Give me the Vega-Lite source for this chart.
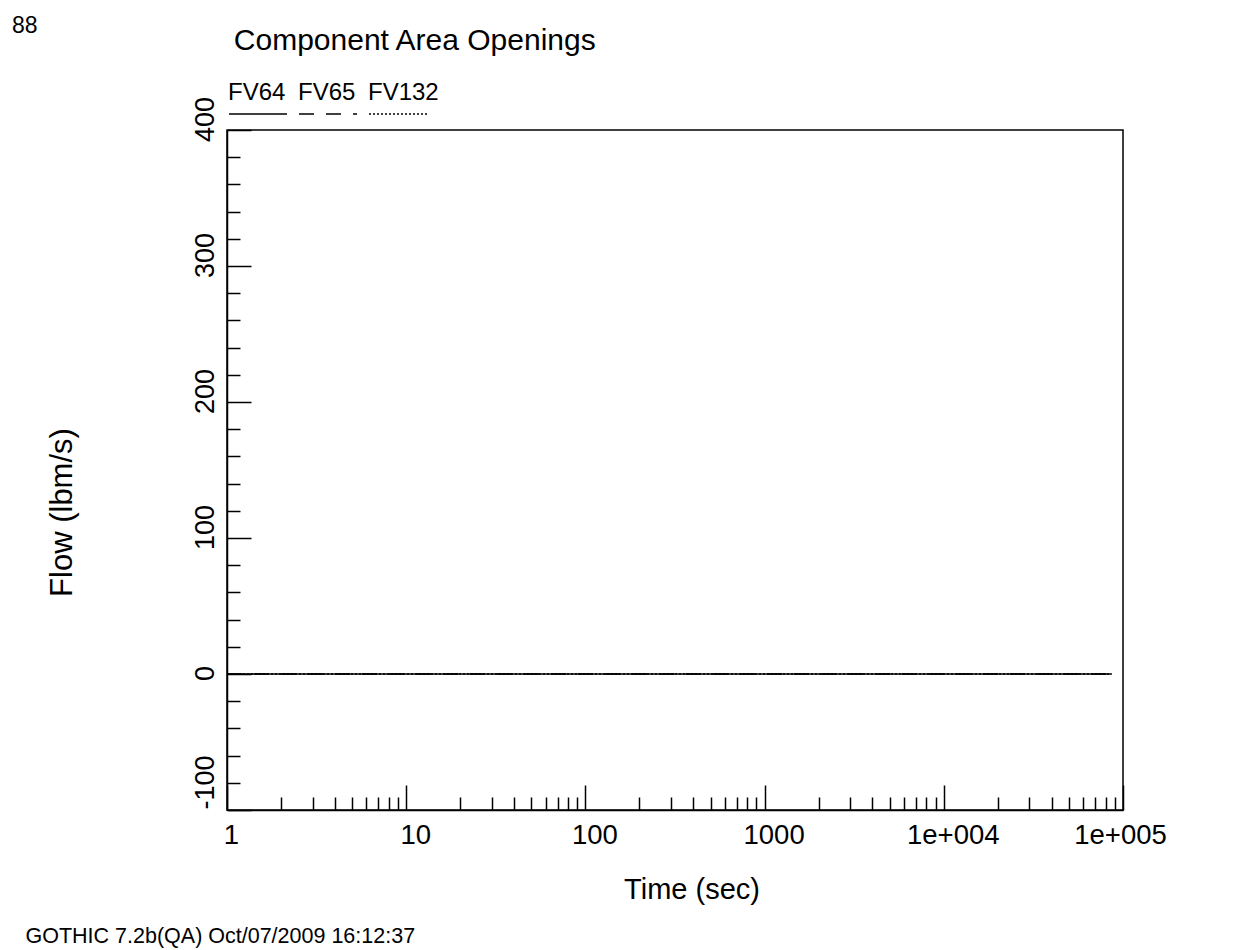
{
  "$schema": "https://vega.github.io/schema/vega-lite/v6.json",
  "width": 896,
  "height": 680,
  "autosize": {"type": "none"},
  "padding": {"left": 227, "top": 130, "right": 112, "bottom": 140},
  "background": "white",
  "title": {"text": "88", "anchor": "start", "frame": "bounds", "orient": "top", "fontSize": 23, "fontWeight": "normal", "font": "Liberation Sans", "color": "black", "offset": 0, "dx": -13, "dy": 13},
  "data": {"values": [
    {"series": "FV64", "time": 1, "flow": 0},
    {"series": "FV64", "time": 86400, "flow": 0},
    {"series": "FV65", "time": 1, "flow": 0},
    {"series": "FV65", "time": 86400, "flow": 0},
    {"series": "FV132", "time": 1, "flow": 0},
    {"series": "FV132", "time": 86400, "flow": 0}
  ]},
  "config": {
    "font": "Liberation Sans",
    "view": {"stroke": "black", "strokeWidth": 1.5},
    "axis": {"grid": false, "domainColor": "black", "domainWidth": 1.5, "tickColor": "black", "tickWidth": 1.5, "labelColor": "black", "titleColor": "black", "labelFont": "Liberation Sans", "titleFont": "Liberation Sans", "titleFontWeight": "normal"}
  },
  "layer": [
    {
      "transform": [{"filter": "datum.series != 'FV64'"}],
      "mark": {"type": "line", "color": "black", "strokeWidth": 1.5},
      "encoding": {
        "x": {"field": "time", "type": "quantitative",
          "scale": {"type": "log", "domain": [1, 100000], "nice": false},
          "axis": {"orient": "bottom", "title": "Time (sec)",
            "values": [1,2,3,4,5,6,7,8,9,10,20,30,40,50,60,70,80,90,100,200,300,400,500,600,700,800,900,1000,2000,3000,4000,5000,6000,7000,8000,9000,10000,20000,30000,40000,50000,60000,70000,80000,90000,100000],
            "labelExpr": "datum.value == 1 ? '1' : datum.value == 10 ? '10' : datum.value == 100 ? '100' : datum.value == 1000 ? '1000' : datum.value == 10000 ? '1e+004' : datum.value == 100000 ? '1e+005' : ''",
            "tickSize": {"condition": {"test": "indexof([1,10,100,1000,10000,100000], datum.value) >= 0", "value": -25}, "value": -13},
            "labelPadding": 58, "labelBaseline": "alphabetic", "labelAlign": "center", "labelFontSize": 27.5,
            "labelFlush": false, "labelOverlap": false, "labelBound": false,
            "labelOffset": {"condition": [{"test": "datum.value == 100000", "value": -3}, {"test": "datum.value == 1", "value": 4}], "value": 9},
            "titleFontSize": 29, "titleX": 464.5, "titleY": 88, "titleBaseline": "alphabetic", "titleAlign": "center"}},
        "y": {"field": "flow", "type": "quantitative",
          "scale": {"domain": [-100, 400], "nice": false, "zero": false},
          "axis": {"orient": "left", "title": "Flow (lbm/s)",
            "values": [-100,-80,-60,-40,-20,0,20,40,60,80,100,120,140,160,180,200,220,240,260,280,300,320,340,360,380,400],
            "labelExpr": "datum.value % 100 == 0 ? '' + datum.value : ''",
            "tickSize": {"condition": {"test": "datum.value % 100 == 0", "value": -24}, "value": -13},
            "labelPadding": 37.7, "labelAngle": 270, "labelAlign": "center", "labelBaseline": "alphabetic", "labelFontSize": 27,
            "labelOffset": {"condition": [{"test": "datum.value == 0", "value": -1}, {"test": "datum.value == -100", "value": -28}], "value": -11},
            "labelFlush": false, "labelOverlap": false, "labelBound": false,
            "titleFontSize": 31, "titleAngle": 270, "titleX": -156, "titleY": 382, "titleAlign": "center", "titleBaseline": "alphabetic"}},
        "strokeDash": {"field": "series", "type": "nominal",
          "scale": {"domain": ["FV64", "FV65", "FV132"], "range": [[1, 0], [15, 12], [2, 2]]},
          "legend": {"title": null, "orient": "none", "legendX": 1, "legendY": -60, "direction": "horizontal", "padding": 0, "columnPadding": 6,
            "symbolType": "M-1,0.48H1", "symbolSize": 3364, "symbolStrokeWidth": 1.5, "symbolStrokeColor": "black",
            "labelOffset": -60, "labelFontSize": 24, "labelFont": "Liberation Sans", "labelColor": "black", "labelBaseline": "alphabetic"}}
      }
    },
    {
      "transform": [{"filter": "datum.series == 'FV64'"}],
      "mark": {"type": "line", "color": "black", "strokeWidth": 1.5},
      "encoding": {
        "x": {"field": "time", "type": "quantitative",
          "scale": {"type": "log", "domain": [1, 100000], "nice": false},
          "axis": {"orient": "top", "title": "Component Area Openings", "domain": false, "ticks": false, "labels": false,
            "titleFontSize": 30, "titleX": 6.3, "titleY": -81, "titleAlign": "left", "titleAnchor": "start", "titleBaseline": "alphabetic", "titleAngle": 0}},
        "y": {"field": "flow", "type": "quantitative",
          "scale": {"domain": [-100, 400], "nice": false, "zero": false},
          "axis": {"orient": "left", "title": "GOTHIC 7.2b(QA) Oct/07/2009 16:12:37", "domain": false, "ticks": false, "labels": false,
            "titleFontSize": 21.5, "titleAngle": 0, "titleX": -202, "titleY": 812, "titleAlign": "left", "titleBaseline": "alphabetic"}},
        "strokeDash": {"field": "series", "type": "nominal",
          "scale": {"domain": ["FV64", "FV65", "FV132"], "range": [[1, 0], [15, 12], [2, 2]]},
          "legend": {"title": null, "orient": "none", "legendX": 1, "legendY": -60, "direction": "horizontal", "padding": 0, "columnPadding": 6,
            "symbolType": "M-1,0.48H1", "symbolSize": 3364, "symbolStrokeWidth": 1.5, "symbolStrokeColor": "black",
            "labelOffset": -60, "labelFontSize": 24, "labelFont": "Liberation Sans", "labelColor": "black", "labelBaseline": "alphabetic"}}
      }
    }
  ],
  "resolve": {"axis": {"x": "independent", "y": "independent"}}
}
